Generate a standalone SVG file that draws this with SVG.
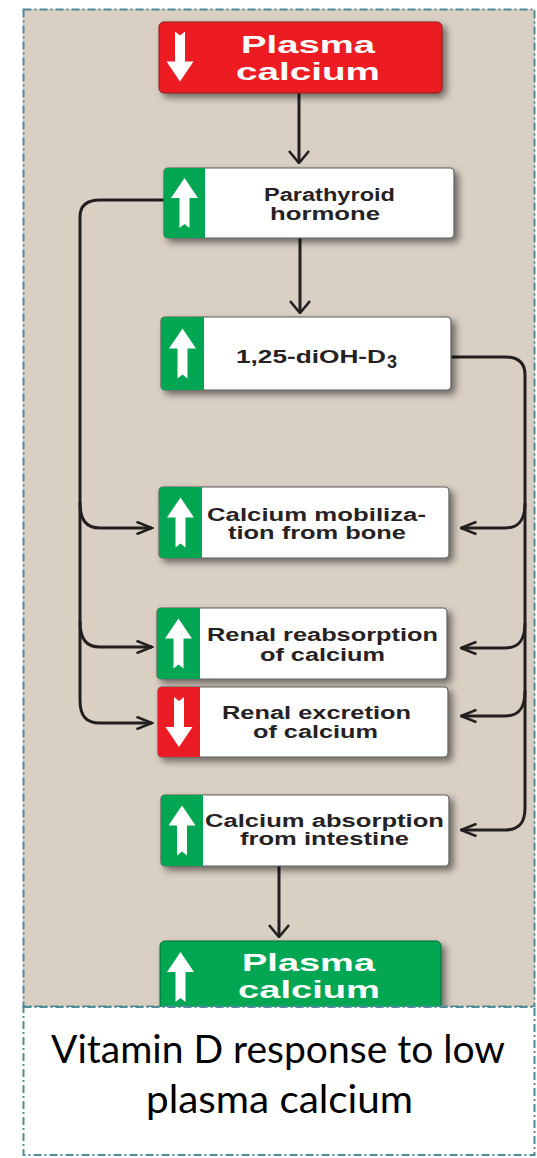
<svg xmlns="http://www.w3.org/2000/svg" width="537" height="1158" viewBox="0 0 537 1158">
<style>
.frame{fill:none;stroke:#4f8b99;stroke-width:2;stroke-dasharray:8 3 2 3}
.box{fill:#ffffff;stroke:#5a5a5a;stroke-width:1.2}
.lbl{font-family:"Liberation Sans",Arial,sans-serif;font-weight:bold;font-size:18px;fill:#262223}
.big{font-family:"Liberation Sans",Arial,sans-serif;font-weight:bold;font-size:24.5px;fill:#ffffff}
.cap{font-family:Lato,"Noto Sans",sans-serif;font-size:39px;fill:#000000}
.con{fill:none;stroke:#231f20;stroke-width:3}
.green{fill:#00a651}
.red{fill:#ec1c24}
.warr{fill:#ffffff}
</style>
<defs>
<filter id="sh" x="-10%" y="-20%" width="125%" height="150%">
<feDropShadow dx="4" dy="4" stdDeviation="3.5" flood-color="#000" flood-opacity="0.5"/>
</filter>
<path id="up" d="M0,-25 L13.5,-5 H5 V25 L0,21 L-5,25 V-5 H-13.5 Z"/>
<marker id="mh" viewBox="0 0 18 14" markerWidth="18" markerHeight="14" refX="16.5" refY="7" orient="auto" markerUnits="userSpaceOnUse">
<path d="M1,0.8 L16.5,7 L1,13.2" fill="none" stroke="#231f20" stroke-width="2.6"/>
</marker>
<marker id="mv" viewBox="0 0 14 22" markerWidth="14" markerHeight="22" refX="13" refY="11" orient="auto" markerUnits="userSpaceOnUse">
<path d="M1,1 L13,11 L1,21" fill="none" stroke="#231f20" stroke-width="2.6"/>
</marker>
<clipPath id="panelClip"><rect x="23" y="9" width="512" height="998"/></clipPath>
</defs>

<rect x="23" y="9" width="512" height="998" fill="#d9cfc3"/>

<g clip-path="url(#panelClip)">
<g id="connectors">
<path class="con" marker-end="url(#mv)" d="M299,93 V163"/>
<path class="con" marker-end="url(#mv)" d="M300,238 V313"/>
<path class="con" marker-end="url(#mv)" d="M279,866 V937"/>
<path class="con" marker-end="url(#mh)" d="M164,200 H100 Q80,200 80,217 V700 C80,716 86,723 100,723 H152"/>
<path class="con" marker-end="url(#mh)" d="M80,502 C80,520 86,528 100,528 H152"/>
<path class="con" marker-end="url(#mh)" d="M80,621 C80,639 86,647 100,647 H152"/>
<path class="con" marker-end="url(#mh)" d="M451,357 H505 Q525,357 525,375 V808 C525,823 519,830 505,830 H461"/>
<path class="con" marker-end="url(#mh)" d="M525,503 C525,520 519,528 505,528 H461"/>
<path class="con" marker-end="url(#mh)" d="M525,623 C525,640 519,648 505,648 H461"/>
<path class="con" marker-end="url(#mh)" d="M525,691 C525,708 519,716 505,716 H461"/>
</g>

<g id="plasma-low">
<rect x="159" y="22" width="283" height="71" rx="5" class="red" stroke="#8a1a1a" stroke-width="1" filter="url(#sh)"/>
<use href="#up" class="warr" transform="translate(180,56.5) rotate(180)"/>
<text class="big" x="241" y="53" textLength="134" lengthAdjust="spacingAndGlyphs">Plasma</text>
<text class="big" x="236" y="80" textLength="144" lengthAdjust="spacingAndGlyphs">calcium</text>
</g>

<g id="pth">
<rect x="164" y="168" width="290" height="70" rx="4" class="box" filter="url(#sh)"/>
<path class="green" d="M168,168 H205 V238 H168 Q164,238 164,234 V172 Q164,168 168,168 Z"/>
<use href="#up" class="warr" transform="translate(184.5,203)"/>
<text class="lbl" x="264" y="201" textLength="131" lengthAdjust="spacingAndGlyphs">Parathyroid</text>
<text class="lbl" x="270" y="220" textLength="110" lengthAdjust="spacingAndGlyphs">hormone</text>
</g>

<g id="vitd">
<rect x="161" y="317" width="290" height="73" rx="4" class="box" filter="url(#sh)"/>
<path class="green" d="M165,317 H204 V390 H165 Q161,390 161,386 V321 Q161,317 165,317 Z"/>
<use href="#up" class="warr" transform="translate(182.5,353.5)"/>
<text class="lbl" x="236" y="363" textLength="150" lengthAdjust="spacingAndGlyphs">1,25-diOH-D</text>
<text class="lbl" x="387" y="368" font-size="13" textLength="10" lengthAdjust="spacingAndGlyphs">3</text>
</g>

<g id="bone">
<rect x="159" y="487" width="290" height="71" rx="4" class="box" filter="url(#sh)"/>
<path class="green" d="M163,487 H202 V558 H163 Q159,558 159,554 V491 Q159,487 163,487 Z"/>
<use href="#up" class="warr" transform="translate(180.5,522.5)"/>
<text class="lbl" x="207" y="521" textLength="219" lengthAdjust="spacingAndGlyphs">Calcium mobiliza-</text>
<text class="lbl" x="228" y="539" textLength="178" lengthAdjust="spacingAndGlyphs">tion from bone</text>
</g>

<g id="reabsorption">
<rect x="157" y="608" width="290" height="71" rx="4" class="box" filter="url(#sh)"/>
<path class="green" d="M161,608 H200 V679 H161 Q157,679 157,675 V612 Q157,608 161,608 Z"/>
<use href="#up" class="warr" transform="translate(178.5,643.5)"/>
<text class="lbl" x="207" y="641" textLength="231" lengthAdjust="spacingAndGlyphs">Renal reabsorption</text>
<text class="lbl" x="260" y="661" textLength="125" lengthAdjust="spacingAndGlyphs">of calcium</text>
</g>

<g id="excretion">
<rect x="158" y="687" width="290" height="70" rx="4" class="box" filter="url(#sh)"/>
<path class="red" d="M162,687 H200 V757 H162 Q158,757 158,753 V691 Q158,687 162,687 Z"/>
<use href="#up" class="warr" transform="translate(179,722) rotate(180)"/>
<text class="lbl" x="222" y="719" textLength="189" lengthAdjust="spacingAndGlyphs">Renal excretion</text>
<text class="lbl" x="253" y="738" textLength="125" lengthAdjust="spacingAndGlyphs">of calcium</text>
</g>

<g id="intestine">
<rect x="161" y="795" width="288" height="71" rx="4" class="box" filter="url(#sh)"/>
<path class="green" d="M165,795 H203 V866 H165 Q161,866 161,862 V799 Q161,795 165,795 Z"/>
<use href="#up" class="warr" transform="translate(182,830.5)"/>
<text class="lbl" x="205" y="827" textLength="239" lengthAdjust="spacingAndGlyphs">Calcium absorption</text>
<text class="lbl" x="240" y="845" textLength="169" lengthAdjust="spacingAndGlyphs">from intestine</text>
</g>

<g id="plasma-high">
<rect x="160" y="941" width="281" height="80" rx="5" class="green" stroke="#0a6a36" stroke-width="1" filter="url(#sh)"/>
<use href="#up" class="warr" transform="translate(180.5,977)"/>
<text class="big" x="242" y="971" textLength="133" lengthAdjust="spacingAndGlyphs">Plasma</text>
<text class="big" x="238" y="998" textLength="142" lengthAdjust="spacingAndGlyphs">calcium</text>
</g>
</g>

<rect class="frame" x="23.5" y="9.5" width="511" height="997"/>

<g id="caption">
<rect x="23.5" y="1007" width="511" height="148" fill="#ffffff"/>
<rect class="frame" x="23.5" y="1007" width="511" height="148"/>
<text class="cap" x="51" y="1063" textLength="454" lengthAdjust="spacingAndGlyphs">Vitamin D response to low</text>
<text class="cap" x="146" y="1113" textLength="267" lengthAdjust="spacingAndGlyphs">plasma calcium</text>
</g>
</svg>
